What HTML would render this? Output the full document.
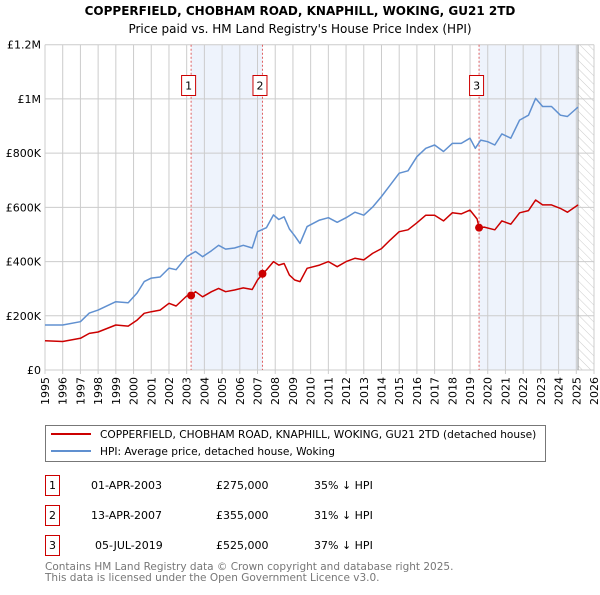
<!DOCTYPE html>
<html><head><meta charset="utf-8"><style>
body{margin:0;background:#fff;font-family:"Liberation Sans","DejaVu Sans",sans-serif;}
svg text{font-family:"DejaVu Sans","Liberation Sans",sans-serif;}
</style></head><body>
<svg id="c" width="600" height="590" viewBox="0 0 600 590" xmlns="http://www.w3.org/2000/svg">
<defs><pattern id="hatch" width="6" height="6" patternUnits="userSpaceOnUse" patternTransform="rotate(-45)"><line x1="0" y1="0" x2="0" y2="6" stroke="#ccc" stroke-width="1"/></pattern></defs>
<text x="300" y="15" text-anchor="middle" font-size="12" font-weight="bold">COPPERFIELD, CHOBHAM ROAD, KNAPHILL, WOKING, GU21 2TD</text>
<text x="300" y="33" text-anchor="middle" font-size="12">Price paid vs. HM Land Registry's House Price Index (HPI)</text>
<g id="plot"></g>
<g>
<rect x="45.5" y="425.5" width="500" height="36" fill="#fff" stroke="#777"/>
<line x1="51" y1="434" x2="91" y2="434" stroke="#cc0000" stroke-width="2"/>
<text x="100" y="438" font-size="10.6">COPPERFIELD, CHOBHAM ROAD, KNAPHILL, WOKING, GU21 2TD (detached house)</text>
<line x1="51" y1="451" x2="91" y2="451" stroke="#6090d0" stroke-width="2"/>
<text x="100" y="455" font-size="10.6">HPI: Average price, detached house, Woking</text>
</g>
<g font-size="11">
<rect x="45.5" y="475.5" width="14" height="20" fill="#fff" stroke="#cc0000"/><text x="52.5" y="489" text-anchor="middle">1</text>
<text x="91" y="489">01-APR-2003</text><text x="216" y="489">£275,000</text><text x="314" y="489">35% ↓ HPI</text>
<rect x="45.5" y="505.5" width="14" height="20" fill="#fff" stroke="#cc0000"/><text x="52.5" y="519" text-anchor="middle">2</text>
<text x="91" y="519">13-APR-2007</text><text x="216" y="519">£355,000</text><text x="314" y="519">31% ↓ HPI</text>
<rect x="45.5" y="535.5" width="14" height="20" fill="#fff" stroke="#cc0000"/><text x="52.5" y="549" text-anchor="middle">3</text>
<text x="95" y="549">05-JUL-2019</text><text x="216" y="549">£525,000</text><text x="314" y="549">37% ↓ HPI</text>
</g>
<text x="45" y="570" font-size="10.5" fill="#777">Contains HM Land Registry data © Crown copyright and database right 2025.</text>
<text x="45" y="581" font-size="10.5" fill="#777">This data is licensed under the Open Government Licence v3.0.</text>
</svg>
<script>
const hpiYears=[1995,1996,1997,1997.5,1998,1999,1999.7,2000.2,2000.6,2001,2001.5,2002,2002.4,2003,2003.5,2003.9,2004.4,2004.8,2005.2,2005.7,2006.2,2006.7,2007.0,2007.5,2007.9,2008.2,2008.5,2008.8,2009.1,2009.4,2009.8,2010.5,2011,2011.5,2012,2012.5,2013,2013.5,2014,2014.5,2015,2015.5,2016,2016.5,2017,2017.5,2018,2018.5,2019,2019.3,2019.6,2020,2020.4,2020.8,2021.3,2021.8,2022.3,2022.7,2023.1,2023.6,2024.1,2024.5,2025.1];
const hpiValues=[166,166,178,210,221,252,248,284,326,339,343,376,370,418,437,418,440,460,446,450,460,450,510,525,572,555,565,520,495,467,529,553,562,545,562,582,571,601,640,683,726,735,787,818,830,806,836,836,855,818,848,842,830,871,855,922,940,1002,972,972,940,935,970];
const propYears=[1995,1996,1997,1997.5,1998,1999,1999.7,2000.2,2000.6,2001,2001.5,2002,2002.4,2003,2003.25,2003.5,2003.9,2004.4,2004.8,2005.2,2005.7,2006.2,2006.7,2007.0,2007.28,2007.5,2007.9,2008.2,2008.5,2008.8,2009.1,2009.4,2009.8,2010.5,2011,2011.5,2012,2012.5,2013,2013.5,2014,2014.5,2015,2015.5,2016,2016.5,2017,2017.5,2018,2018.5,2019,2019.4,2019.51,2019.8,2020.4,2020.8,2021.3,2021.8,2022.3,2022.7,2023.1,2023.6,2024.1,2024.5,2025.1];
const propValues=[108,105,117,135,140,166,162,184,209,215,221,246,236,273,275,289,270,289,301,289,295,303,297,332,355,369,400,387,393,350,332,326,375,387,400,381,400,412,406,430,448,480,510,517,543,571,571,550,580,576,590,557,525,527,517,550,538,580,588,627,609,609,596,582,609];
const saleYears=[2003.25,2007.28,2019.51];
const saleValues=[275,355,525];
const saleLabels=["1","2","3"];
const yTicks=[0,200,400,600,800,1000,1200];
const yTickLabels=["£0","£200K","£400K","£600K","£800K","£1M","£1.2M"];
const xTicks=[];for(let y=1995;y<=2026;y++)xTicks.push(y);

const X0=45,X1=594,Y0=370,Y1=44.7;
const xs=y=>X0+(y-1995)/(2026-1995)*(X1-X0);
const ys=v=>Y0-v/1200*(Y0-Y1);
const NS="http://www.w3.org/2000/svg";
const g=document.getElementById('plot');
function mk(t,a,p){const e=document.createElementNS(NS,t);for(const k in a)e.setAttribute(k,a[k]);(p||g).appendChild(e);return e;}

const bg=mk('rect',{x:X0,y:Y1,width:X1-X0,height:Y0-Y1,fill:'#fff'});

const s1=mk('rect',{x:xs(saleYears[0]),y:Y1,width:xs(saleYears[1])-xs(saleYears[0]),height:Y0-Y1,fill:'#eef3fc'});

const s2=mk('rect',{x:xs(saleYears[2]),y:Y1,width:xs(2025.1)-xs(saleYears[2]),height:Y0-Y1,fill:'#eef3fc'});

const ht=mk('rect',{x:xs(2025.1),y:Y1,width:X1-xs(2025.1),height:Y0-Y1,fill:'url(#hatch)'});


xTicks.forEach(y=>{
 const l=mk('line',{x1:xs(y),x2:xs(y),y1:Y1,y2:Y0+4,stroke:'#ccc','stroke-width':1});
 
 const t=mk('text',{x:0,y:0,'font-size':11,'text-anchor':'end',transform:`translate(${xs(y)+4},${Y0+7}) rotate(-90)`});
 t.textContent=y;
 
});
yTicks.forEach((v,i)=>{
 const l=mk('line',{x1:X0,x2:X1,y1:ys(v),y2:ys(v),stroke:'#ccc','stroke-width':1});
 
 const t=mk('text',{x:X0-4,y:ys(v)+4,'font-size':11,'text-anchor':'end'});
 t.textContent=yTickLabels[i];
 
});
const el=mk('line',{x1:xs(2025.1),x2:xs(2025.1),y1:Y1,y2:Y0,stroke:'#999','stroke-width':1});


saleYears.forEach((y,i)=>{
 const l=mk('line',{x1:xs(y),x2:xs(y),y1:Y1,y2:Y0,stroke:'#e06060','stroke-width':1,'stroke-dasharray':'2,2'});
 
});

function path(xa,va,col,name){
 const d=xa.map((y,i)=>(i?'L':'M')+xs(y).toFixed(1)+','+ys(va[i]).toFixed(1)).join('');
 const p=mk('path',{d:d,fill:'none',stroke:col,'stroke-width':1.5,'stroke-linejoin':'round'});
 
}
path(hpiYears,hpiValues,'#6090d0','hpi-line');
path(propYears,propValues,'#cc0000','property-price-line');

saleYears.forEach((y,i)=>{
 const c=mk('circle',{cx:xs(y),cy:ys(saleValues[i]),r:4,fill:'#cc0000'});
 
 const r=mk('rect',{x:xs(y)-9.5,y:75.5,width:14,height:20,fill:'#fff',stroke:'#cc0000'});
 
 const t=mk('text',{x:xs(y)-2.5,y:89.5,'font-size':11,'text-anchor':'middle'});
 t.textContent=saleLabels[i];
 
});
</script>
</body></html>
